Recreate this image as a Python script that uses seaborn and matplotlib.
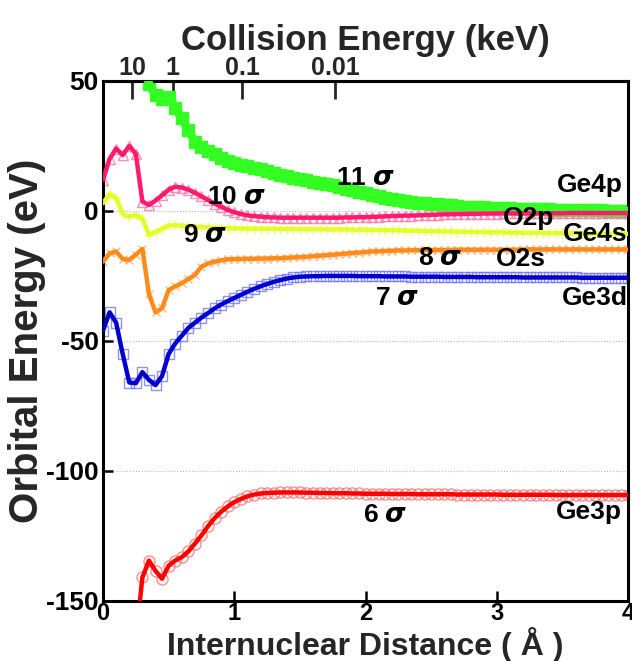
import numpy as np
import pandas as pd
import matplotlib
matplotlib.use("Agg")
import matplotlib.pyplot as plt
import seaborn as sns

# Internuclear distance grid (Angstrom)
distance = np.round(np.arange(0, 4.0001, 0.05), 2)

nan = np.nan
# Molecular orbital energies (eV) along the distance grid
orb_11s = [nan, nan, nan, nan, nan, nan, 58, 49, 44.5, 43, 44, 39.5, 35.6, 31, 26.7, 24.5,
           23.2, 21.8, 20.4, 19.2, 18.4, 17.8, 17.2, 16.7, 16.2, 15.5, 14.6, 13.8, 13.3, 12.8,
           12.3, 11.8, 11.3, 10.8, 10.3, 9.8, 9.2, 8.6, 8.0, 7.4, 6.8, 6.2, 5.6, 5.1, 4.6,
           4.2, 3.8, 3.5, 3.2, 2.9, 2.7, 2.5, 2.3, 2.1, 1.9, 1.7, 1.6, 1.5, 1.4, 1.3,
           1.2, 1.1, 1.0, 0.9, 0.85, 0.8, 0.7, 0.65, 0.6, 0.55, 0.5, 0.45, 0.4, 0.35, 0.3,
           0.25, 0.2, 0.15, 0.1, 0.05, 0.0]
orb_10s = [12, 20, 24, 21.5, 25, 22, 3.6, 2.3, 4.0, 6.0, 8.2, 9.3, 9.0, 8.2, 7.0, 5.6,
           4.2, 2.8, 1.6, 0.4, -0.5, -1.2, -1.7, -2.0, -2.2, -2.4, -2.5, -2.6, -2.6, -2.6,
           -2.6, -2.6, -2.6, -2.6, -2.6, -2.6, -2.6, -2.5, -2.5, -2.4, -2.4, -2.3, -2.2, -2.1, -2.0,
           -1.9, -1.8, -1.8, -1.7, -1.6, -1.5, -1.4, -1.3, -1.3, -1.2, -1.2, -1.1, -1.1, -1.0, -1.0,
           -1.0, -0.9, -0.9, -0.9, -0.9, -0.9, -0.9, -0.9, -0.9, -0.9, -0.9, -0.8, -0.8, -0.8, -0.8,
           -0.8, -0.8, -0.8, -0.8, -0.8, -0.8]
orb_9s = [3, 6.5, 5, -1, -2.2, -1.5, -3, -9.2, -8, -6.8, -5.6, -5.5, -5.7, -5.9, -6.0, -6.2,
          -6.3, -6.4, -6.5, -6.6, -6.7, -6.7, -6.8, -6.8, -6.8, -6.8, -6.9, -6.9, -6.9, -6.9,
          -7.0, -7.0, -7.0, -7.0, -7.1, -7.1, -7.1, -7.1, -7.2, -7.2, -7.2, -7.3, -7.3, -7.4, -7.4,
          -7.5, -7.5, -7.6, -7.6, -7.7, -7.8, -7.8, -7.9, -7.9, -8.0, -8.0, -8.1, -8.1, -8.1, -8.2,
          -8.2, -8.2, -8.3, -8.3, -8.4, -8.4, -8.4, -8.5, -8.5, -8.5, -8.6, -8.6, -8.6, -8.7, -8.7,
          -8.7, -8.7, -8.8, -8.8, -8.8, -8.8]
orb_8s = [-19.5, -16.3, -15.6, -18.5, -18.8, -16.8, -14.6, -32, -39, -37.4, -30.4, -29, -27.8,
          -26.2, -24.6, -21.4, -20.2, -19.5, -19.0, -18.6, -18.5, -18.5, -18.4, -18.4, -18.3,
          -18.3, -18.2, -18.2, -18.0, -17.9, -17.8, -17.6, -17.4, -17.2, -17.0, -16.8, -16.6,
          -16.4, -16.2, -16.0, -15.8, -15.6, -15.5, -15.4, -15.3, -15.2, -15.2, -15.1, -15.1,
          -15.0, -15.0, -15.0, -15.0, -15.0, -14.9, -14.9, -14.9, -14.9, -14.9, -14.9, -14.9,
          -14.9, -14.9, -14.9, -14.8, -14.8, -14.8, -14.8, -14.8, -14.8, -14.8, -14.8, -14.8,
          -14.8, -14.8, -14.8, -14.8, -14.8, -14.8, -14.8, -14.8]
orb_7s = [-46, -39, -43, -55, -66, -66.3, -62, -65, -67, -63.5, -55, -51, -48, -45, -43, -41,
          -39.3, -37.5, -36, -34.7, -33.5, -32.3, -31.1, -30.0, -29.0, -28.1, -27.3, -26.6,
          -26.0, -25.6, -25.3, -25.2, -25.1, -25.1, -25.0, -25.0, -25.0, -25.0, -25.0, -25.1,
          -25.1, -25.1, -25.1, -25.2, -25.2, -25.2, -25.2, -25.3, -25.3, -25.3, -25.3, -25.3,
          -25.4, -25.4, -25.4, -25.4, -25.4, -25.5, -25.5, -25.5, -25.5, -25.5, -25.5, -25.5,
          -25.6, -25.6, -25.6, -25.6, -25.6, -25.6, -25.6, -25.6, -25.6, -25.7, -25.7, -25.7,
          -25.7, -25.7, -25.7, -25.7, -25.7]
orb_6s = [nan, nan, nan, nan, nan, -165, -141, -134.5, -138.5, -141.5, -136.5, -134.5, -133.2,
          -131, -128, -124.8, -121.3, -118.2, -115.7, -113.7, -112, -110.8, -109.8, -109.1,
          -108.7, -108.5, -108.4, -108.3, -108.3, -108.3, -108.3, -108.4, -108.4, -108.5,
          -108.5, -108.6, -108.6, -108.6, -108.7, -108.7, -108.8, -108.8, -108.8, -108.8,
          -108.9, -108.9, -108.9, -108.9, -109.0, -109.0, -109.0, -109.0, -109.0, -109.0,
          -109.1, -109.1, -109.1, -109.1, -109.1, -109.1, -109.1, -109.2, -109.2, -109.2,
          -109.2, -109.2, -109.2, -109.2, -109.2, -109.3, -109.3, -109.3, -109.3, -109.3,
          -109.3, -109.3, -109.3, -109.3, -109.3, -109.3, -109.3]

# Top axis: collision energy labels at the matching distances of closest approach
energy_labels = ["10", "1", "0.1", "0.01"]
energy_at_distance = [0.22, 0.53, 1.06, 1.77]

orbital_names = ["11σ", "10σ", "9σ", "8σ", "7σ", "6σ"]
orbital_values = [orb_11s, orb_10s, orb_9s, orb_8s, orb_7s, orb_6s]

df = pd.DataFrame({"distance": distance})
for name, vals in zip(orbital_names, orbital_values):
    df[name] = vals

sns.set_style("ticks")
plt.rcParams["font.family"] = ["Liberation Sans", "DejaVu Sans"]
plt.rcParams["font.weight"] = "bold"
plt.rcParams["axes.unicode_minus"] = False

styles = {
    "11σ": dict(color="#33ff22", marker="s", ms=8.5, face="#33ff22", edge="#33ff22", lw=6.0),
    "10σ": dict(color="#ff1a6e", marker="^", ms=6.5, face="none", edge=(1.0, 0.45, 0.65, 0.8), lw=3.2),
    "9σ": dict(color="#e2ff2a", marker="+", ms=7, face="none", edge=(0.95, 1.0, 0.35, 0.9), lw=3.2),
    "8σ": dict(color="#ff8c1a", marker="x", ms=6, face="none", edge=(1.0, 0.7, 0.5, 0.9), lw=3.2),
    "7σ": dict(color="#0000cc", marker="s", ms=7.5, face="none", edge=(0.45, 0.45, 1.0, 0.8), lw=3.2),
    "6σ": dict(color="#ff0000", marker="o", ms=8, face="none", edge=(1.0, 0.45, 0.45, 0.8), lw=3.2),
}

fig = plt.figure(figsize=(6.32, 6.61), dpi=100)
ax = fig.add_axes([0.163, 0.091, 0.8307, 0.7865])

for name in orbital_names:
    st = styles[name]
    sub = df[["distance", name]].dropna()
    # markers underneath, line on top
    ax.plot(sub["distance"], sub[name], linestyle="none", marker=st["marker"],
            markersize=st["ms"], markerfacecolor=st["face"], markeredgecolor=st["edge"],
            markeredgewidth=1.0, zorder=2, clip_on=True)
    sns.lineplot(data=sub, x="distance", y=name, ax=ax, color=st["color"],
                 linewidth=st["lw"], errorbar=None, sort=True, zorder=3)

ax.set_xlim(0, 4)
ax.set_ylim(-150, 50)
ax.set_xticks([0, 1, 2, 3, 4])
ax.set_yticks([-150, -100, -50, 0, 50])
ax.grid(axis="y", color="#bbbbbb", linestyle=":", linewidth=0.8, zorder=1)
for sp in ax.spines.values():
    sp.set_linewidth(2.2)
    sp.set_color("black")
ax.tick_params(axis="y", direction="in", length=7, width=1.8, labelsize=19,
               colors="black", pad=3)
ax.tick_params(axis="x", direction="in", length=7, width=1.8, labelsize=17,
               colors="black", pad=1)
for lab in ax.get_xticklabels() + ax.get_yticklabels():
    lab.set_fontweight("bold")

ax.set_xlabel("Internuclear Distance ( Å )", fontsize=23, fontweight="bold", labelpad=1)
ax.set_ylabel("Orbital Energy (eV)", fontsize=29, fontweight="bold", labelpad=0)

top = ax.secondary_xaxis("top")
top.set_xticks(energy_at_distance)
top.set_xticklabels(energy_labels, fontsize=18, fontweight="bold")
top.tick_params(direction="in", length=13, width=2.0, pad=1)
top.spines["top"].set_linewidth(2.2)
top.set_xlabel("Collision Energy (keV)", fontsize=25, fontweight="bold", labelpad=4)

# Orbital and atomic-level labels
txt = dict(fontsize=19, fontweight="bold", color="black", ha="center", va="center", zorder=5)
orbital_label_pos = {"11σ": (2.0, 12.7), "10σ": (1.02, 5.4), "9σ": (0.78, -9.2),
                     "8σ": (2.57, -18.0), "7σ": (2.24, -33.5), "6σ": (2.15, -117.0)}
for name, (xx, yy) in orbital_label_pos.items():
    num = name[:-1]
    ax.text(xx, yy, num + r" $\sigma$", **txt)

level_labels = ["Ge4p", "O2p", "Ge4s", "O2s", "Ge3d", "Ge3p"]
level_pos = [(3.71, 10.0), (3.24, -2.7), (3.75, -8.8), (3.18, -18.5), (3.75, -33.5), (3.70, -116.0)]
for lab, (xx, yy) in zip(level_labels, level_pos):
    ax.text(xx, yy, lab, **txt)

fig.savefig("out.png", dpi=100)
